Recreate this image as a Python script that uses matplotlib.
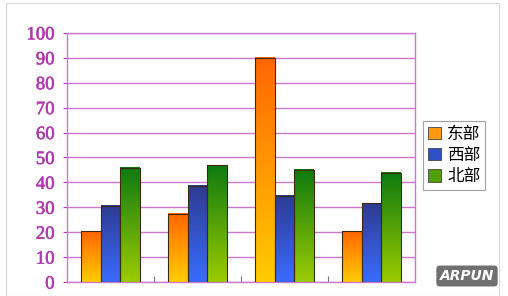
import numpy as np
import matplotlib
matplotlib.use("Agg")
import matplotlib.pyplot as plt
from matplotlib.colors import to_rgb
from matplotlib.patches import Patch, Rectangle

categories = ["1", "2", "3", "4"]
series_names = ["东部", "西部", "北部"]
east = [20.4, 27.4, 90, 20.4]
west = [30.6, 38.6, 34.6, 31.6]
north = [45.9, 46.9, 45, 43.9]
yticks = [0, 10, 20, 30, 40, 50, 60, 70, 80, 90, 100]

# (bottom colour, top colour)
grads = [("#FFCC00", "#FF6600"), ("#3A6CFF", "#2E3A92"), ("#9CCB00", "#0E7A10")]
mid = ["#FF9A10", "#3050C8", "#50A008"]
magenta = "#B038B0"
grid_c = "#CC77CC"

fig = plt.figure(figsize=(5.08, 2.96), dpi=100)
fig.patch.set_facecolor("white")
ax = fig.add_axes([0.132, 0.047, 0.685, 0.842])

x = np.arange(len(categories))
w = 0.224
data = [east, west, north]
for i, (vals, (cb, ct)) in enumerate(zip(data, grads)):
    bars = ax.bar(x + (i - 1) * w, vals, w, facecolor="none",
                  edgecolor="#3a2a10", linewidth=0.8, zorder=4)
    cb_, ct_ = np.array(to_rgb(cb)), np.array(to_rgb(ct))
    t = np.linspace(0, 1, 128)[:, None, None]
    img = cb_[None, None, :] * (1 - t) + ct_[None, None, :] * t
    for b in bars:
        x0, h, bw = b.get_x(), b.get_height(), b.get_width()
        ax.imshow(img, extent=[x0, x0 + bw, 0, h], origin="lower",
                  aspect="auto", zorder=3, interpolation="bilinear")

ax.set_xlim(-0.5, len(categories) - 0.5)
ax.set_ylim(0, 100)
ax.set_yticks(yticks)
ax.set_yticklabels([str(v) for v in yticks], fontfamily="Liberation Serif",
                   fontsize=13.5, color=magenta)
for lbl in ax.get_yticklabels():
    lbl.set_path_effects([])
ax.tick_params(axis="y", length=3, color=magenta, pad=6)
ax.set_xticks([0.5, 1.5, 2.5])
ax.set_xticklabels([])
ax.tick_params(axis="x", direction="in", length=4, color="#777777")
ax.yaxis.grid(True, color=grid_c, linewidth=1.0, zorder=1)
ax.set_axisbelow(True)
for s in ax.spines.values():
    s.set_color(grid_c)
    s.set_linewidth(1.0)

import matplotlib.patheffects as pe
for lbl in ax.get_yticklabels():
    lbl.set_path_effects([pe.withStroke(linewidth=0.4, foreground=magenta)])

handles = [Patch(facecolor=c, edgecolor="#444444", linewidth=0.6) for c in mid]
leg = fig.legend(handles, series_names, loc="upper left",
                 bbox_to_anchor=(423 / 508, 1 - 121 / 296),
                 prop={"family": ["Noto Sans CJK SC", "DejaVu Sans"], "size": 12},
                 frameon=True, fancybox=False, edgecolor="#888888",
                 handlelength=0.75, handleheight=0.75, handletextpad=0.4,
                 borderpad=0.3, labelspacing=0.25, borderaxespad=0)
leg.get_frame().set_linewidth(0.8)

# image frame
fig.add_artist(Rectangle((6 / 508, 0), 493 / 508, 1 - 3 / 296, transform=fig.transFigure,
                         fill=False, edgecolor="#d8d8d8", linewidth=0.8))
# watermark
fig.text(467 / 508, 1 - 276 / 296, "ARPUN", ha="center", va="center",
         color="white", fontsize=10, fontweight="bold", style="italic",
         bbox=dict(boxstyle="round,pad=0.25", facecolor="#707070", edgecolor="none"))

fig.savefig("out.png", dpi=100)
